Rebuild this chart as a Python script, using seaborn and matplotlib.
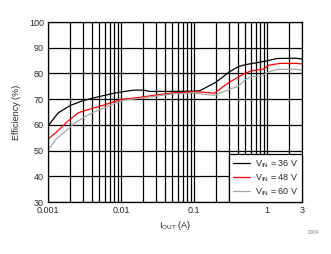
import matplotlib
matplotlib.use("Agg")
import matplotlib.pyplot as plt
import matplotlib.ticker as mticker
from matplotlib.lines import Line2D
import seaborn as sns
import pandas as pd

# Data (Iout in A, efficiency in %)
x_36 = [0.001, 0.00137, 0.002, 0.003, 0.005, 0.008, 0.01, 0.015, 0.02, 0.025, 0.05, 0.1, 0.12,
        0.2, 0.3, 0.4, 0.5, 0.7, 1.0, 1.35, 2.5, 3.0]
y_36 = [59.5, 64.6, 67.5, 69.4, 71.0, 72.3, 72.8, 73.5, 73.5, 73.0, 73.0, 73.1, 73.3,
        76.6, 80.5, 82.6, 83.4, 84.1, 84.9, 85.8, 85.9, 85.6]

x_48 = [0.001, 0.00125, 0.0019, 0.0026, 0.0036, 0.006, 0.01, 0.018, 0.03, 0.05, 0.09, 0.12,
        0.19, 0.29, 0.45, 0.6, 0.9, 1.05, 1.5, 2.5, 3.0]
y_48 = [54.5, 56.7, 61.6, 64.7, 66.0, 67.8, 69.9, 70.7, 71.6, 72.4, 72.8, 72.8,
        72.3, 76.2, 79.4, 81.0, 81.7, 83.2, 83.9, 83.9, 83.7]

x_60 = [0.001, 0.0013, 0.0017, 0.0023, 0.0032, 0.0044, 0.006, 0.0083, 0.011, 0.02, 0.05, 0.1,
        0.12, 0.19, 0.3, 0.4, 0.5, 0.6, 0.85, 1.05, 1.4, 2.5, 3.0]
y_60 = [50.2, 54.5, 57.3, 60.6, 63.2, 65.1, 66.7, 68.4, 69.6, 70.5, 72.0, 72.4,
        72.0, 71.5, 73.7, 75.0, 77.5, 78.7, 79.0, 80.6, 81.6, 81.6, 81.3]

series_names = ["36", "48", "60"]
series_colors = ["#000000", "#FF0000", "#A6A6A6"]
xticks = [0.001, 0.01, 0.1, 1, 3]
xtick_labels = ["0.001", "0.01", "0.1", "1", "3"]
yticks = [30, 40, 50, 60, 70, 80, 90, 100]

frames = []
for name, xs, ys in zip(series_names, [x_36, x_48, x_60], [y_36, y_48, y_60]):
    frames.append(pd.DataFrame({"iout": xs, "eff": ys, "vin": name}))
df = pd.concat(frames, ignore_index=True)

sns.set_style("white")
plt.rcParams["font.family"] = ["Liberation Sans", "DejaVu Sans"]
plt.rcParams["mathtext.fontset"] = "custom"
plt.rcParams["mathtext.rm"] = "Liberation Sans"

fig = plt.figure(figsize=(3.31, 2.54), dpi=100)
ax = fig.add_axes([48 / 331, 1 - 202 / 254, 254 / 331, 180 / 254])

sns.lineplot(data=df, x="iout", y="eff", hue="vin", palette=dict(zip(series_names, series_colors)),
             linewidth=0.9, ax=ax, sort=False, estimator=None, legend=False)

ax.set_xscale("log")
ax.set_xlim(0.001, 3)
ax.set_ylim(30, 100)
ax.set_xticks(xticks)
ax.set_xticklabels(xtick_labels)
ax.xaxis.set_minor_locator(mticker.LogLocator(base=10, subs=range(2, 10), numticks=20))
ax.xaxis.set_minor_formatter(mticker.NullFormatter())
ax.set_yticks(yticks)
ax.tick_params(axis="both", which="both", length=0, labelsize=6.5, pad=3)
ax.grid(True, which="both", axis="x", color="black", linewidth=0.9)
ax.grid(True, which="major", axis="y", color="black", linewidth=0.9)
for s in ax.spines.values():
    s.set_color("black")
    s.set_linewidth(0.9)

ax.set_xlabel(r"I$_{\mathregular{OUT}}$ (A)", fontsize=6.5, labelpad=3)
ax.set_ylabel("Efficiency (%)", fontsize=6.5, labelpad=6)

handles = [Line2D([0], [0], color=c, linewidth=0.9) for c in series_colors]
labels = [r"V$_{\mathregular{IN}}$ = %s V" % n for n in series_names]
leg = ax.legend(handles, labels, loc="lower right", borderaxespad=0, fontsize=6.5,
                frameon=True, fancybox=False, framealpha=1, edgecolor="black",
                handlelength=1.9, handletextpad=0.45, labelspacing=0.3, borderpad=0.45)
leg.get_frame().set_linewidth(0.9)

fig.text(313 / 331, 1 - 233 / 254, "D004", fontsize=3.5, color="#808080", ha="center", va="center")

fig.savefig("out.png", dpi=100)
